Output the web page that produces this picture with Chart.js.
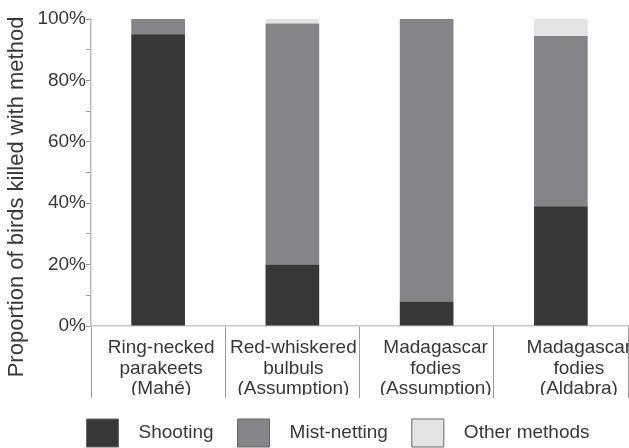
<!DOCTYPE html>
<html>
<head>
<meta charset="utf-8">
<script src="https://cdn.jsdelivr.net/npm/chart.js@4.4.1/dist/chart.umd.min.js"></script>
<style>
  html, body { margin: 0; padding: 0; background: #ffffff; }
  #wrap { width: 629px; height: 448px; position: relative; }
</style>
</head>
<body>
<div id="wrap"><canvas id="c"></canvas></div>
<script>
// ---- data ----
const categories = [
  ["Ring-necked", "parakeets", "(Mahé)"],
  ["Red-whiskered", "bulbuls", "(Assumption)"],
  ["Madagascar", "fodies", "(Assumption)"],
  ["Madagascar", "fodies", "(Aldabra)"]
];
const seriesNames = ["Shooting", "Mist-netting", "Other methods"];
const shooting = [95, 20, 8, 39];
const mistNetting = [5, 78.5, 92, 55.5];
const otherMethods = [0, 1.5, 0, 5.5];
const yTickValues = [0, 20, 40, 60, 80, 100];
const yAxisTitle = "Proportion of birds killed with method";

// ---- style ----
const FONT = '"Liberation Sans", Arial, Helvetica, sans-serif';
const TEXT = '#383838';
const colors = ['#383838', '#858589', '#e2e3e5'];
const labelShift = [3, 1, 9, 18];

const shiftPlugin = {
  id: 'shifts',
  afterLayout(chart) {
    const lg = chart.legend;
    if (lg) { lg.left += 24; lg.right += 24; }
  },
  beforeDraw(chart) {
    const sx = chart.scales.x;
    const items = sx.getLabelItems();
    if (!items._shifted) {
      items.forEach((it, i) => { it.options.translation[0] += labelShift[i] || 0; });
      items._shifted = true;
    }
  }
};

Chart.defaults.font.family = FONT;
Chart.defaults.color = TEXT;

new Chart(document.getElementById('c'), {
  type: 'bar',
  data: {
    labels: categories,
    datasets: [
      { label: seriesNames[0], data: shooting, backgroundColor: colors[0] },
      { label: seriesNames[1], data: mistNetting, backgroundColor: colors[1] },
      { label: seriesNames[2], data: otherMethods, backgroundColor: colors[2] }
    ]
  },
  options: {
    responsive: true,
    maintainAspectRatio: false,
    devicePixelRatio: 1,
    animation: false,
    datasets: { bar: { barPercentage: 0.4, categoryPercentage: 1.0, borderWidth: 0 } },
    layout: { padding: { top: 19, right: 1, bottom: -9, left: 0 } },
    plugins: {
      tooltip: { enabled: false },
      legend: {
        position: 'bottom',
        labels: {
          font: { size: 19 },
          color: TEXT,
          boxWidth: 32,
          boxHeight: 28,
          padding: 24,
          generateLabels(chart) {
            const items = Chart.defaults.plugins.legend.labels.generateLabels(chart);
            items.forEach(it => {
              it.text = '  ' + it.text;
              it.strokeStyle = '#666666';
              it.lineWidth = 1;
            });
            return items;
          }
        }
      }
    },
    scales: {
      x: {
        stacked: true,
        offset: true,
        grid: {
          offset: true,
          drawOnChartArea: false,
          tickLength: 72,
          lineWidth: 1,
          color: (ctx) => ctx.index === categories.length ? 'rgba(0,0,0,0)' : '#9a9a9a'
        },
        border: { display: true, color: '#c8c8c8', width: 1.5 },
        ticks: {
          font: { size: 19, lineHeight: 1.1 },
          color: TEXT,
          padding: -61,
          maxRotation: 0,
          autoSkip: false
        },
        afterFit(s) { s.height = 69; }
      },
      y: {
        stacked: true,
        min: 0,
        max: 100,
        grid: {
          drawOnChartArea: false,
          tickLength: 5,
          color: '#9a9a9a'
        },
        border: { display: true, color: '#bdbdbd', width: 1.5 },
        ticks: {
          stepSize: 10,
          padding: 0,
          font: { size: 19 },
          color: TEXT,
          callback: (v) => yTickValues.includes(v) ? v + '%' : ''
        },
        title: {
          display: true,
          text: yAxisTitle + '        ',
          font: { size: 22 },
          color: TEXT
        },
        afterFit(s) { s.width = 91; }
      }
    }
  },
  plugins: [shiftPlugin]
});
</script>
</body>
</html>
